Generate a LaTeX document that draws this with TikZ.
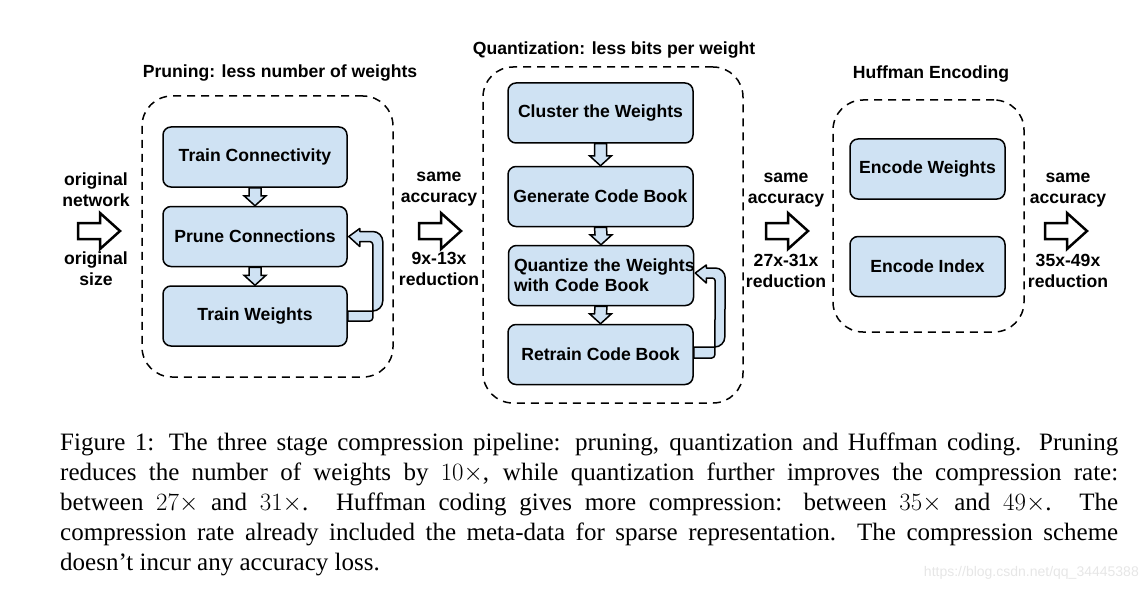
\documentclass[tikz,border=0pt]{standalone}
\usepackage{fontspec}
\setmainfont{Liberation Serif}
\setsansfont{Liberation Sans}
\definecolor{boxblue}{HTML}{CFE2F3}
\definecolor{wmgray}{HTML}{E6E6E6}
\newcommand\dnarrow[2]{%
  \draw[smallarr] ([xshift=-6pt]#1.south) -- ([xshift=6pt]#1.south)
    -- ([xshift=6pt,yshift=10pt]#2.north) -- ([xshift=11pt,yshift=10pt]#2.north)
    -- (#2.north) -- ([xshift=-11pt,yshift=10pt]#2.north)
    -- ([xshift=-6pt,yshift=10pt]#2.north) -- cycle;}
\begin{document}
\begin{tikzpicture}[x=1pt,y=-1pt,
  proc/.style={draw=black, line width=1.5pt, fill=boxblue, rounded corners=8pt,
    minimum width=184pt, minimum height=60pt, inner sep=0pt,
    font=\sffamily\bfseries\fontsize{17.6}{20}\selectfont},
  stage/.style={draw, dash pattern=on 8pt off 6pt, line width=1.5pt, rounded corners=30pt},
  lbl/.style={font=\sffamily\bfseries\fontsize{17.6}{21}\selectfont, align=center, inner sep=0pt},
  smallarr/.style={draw=black, line width=1.5pt, fill=boxblue, line join=miter},
  fb/.style={draw=black, line width=1.5pt, fill=boxblue, line join=round},
  bigarrow/.pic={\draw[line width=2.5pt, fill=white, line join=miter]
    (-21,-8) -- (1,-8) -- (1,-18) -- (21,0) -- (1,18) -- (1,8) -- (-21,8) -- cycle;}
]
\useasboundingbox (0,0) rectangle (1148,591);

% stage boxes
\node[stage, minimum width=251pt, minimum height=281pt] (sprune) at (267.5,236.5) {};
\node[stage, minimum width=260pt, minimum height=336pt] (squant) at (613,235) {};
\node[stage, minimum width=191pt, minimum height=232pt] (shuff) at (928.5,216) {};

% titles
\node[lbl] (tprune) at (280,73) {Pruning: less number of weights};
\node[lbl] (tquant) at (614,50) {Quantization: less bits per weight};
\node[lbl] (thuff) at (931,74) {Huffman Encoding};

% pruning
\node[proc] (tc) at (255,157) {Train Connectivity};
\node[proc] (pc) at (255,236.5) {Prune Connections};
\node[proc] (tw) at (255,316) {Train Weights};
\dnarrow{tc}{pc}
\dnarrow{pc}{tw}
\draw[fb] ([yshift=5pt]tw.east) [rounded corners=10pt] -- ([xshift=35pt,yshift=5pt]tw.east)
  -- ([xshift=35pt,yshift=5pt]pc.east) [sharp corners] -- ([xshift=12pt,yshift=5pt]pc.east)
  -- ([xshift=12pt,yshift=8pt]pc.east) -- ([xshift=1pt]pc.east)
  -- ([xshift=12pt,yshift=-10pt]pc.east) -- ([xshift=12pt,yshift=-5pt]pc.east)
  [rounded corners=3pt] -- ([xshift=25pt,yshift=-5pt]pc.east)
  -- ([xshift=25pt,yshift=-5pt]tw.east) [sharp corners] -- ([yshift=-5pt]tw.east) -- cycle;

% quantization
\node[proc, minimum width=185pt] (cw) at (600.5,113) {Cluster the Weights};
\node[proc, minimum width=185pt] (gc) at (600.5,196.5) {Generate Code Book};
\node[proc, minimum width=185pt, text width=174pt, align=left] (qw) at (601,275.5)
  {\mbox{Quantize the Weights}\\with Code Book};
\node[proc, minimum width=185pt] (rt) at (600.5,354.5) {Retrain Code Book};
\dnarrow{cw}{gc}
\dnarrow{gc}{qw}
\dnarrow{qw}{rt}
\draw[fb] ([yshift=7.5pt]rt.east) [rounded corners=10pt] -- ([xshift=31pt,yshift=7.5pt]rt.east)
  -- ([xshift=31pt,yshift=7.5pt]qw.east) [sharp corners] -- ([xshift=12pt,yshift=7.5pt]qw.east)
  -- ([xshift=12pt,yshift=10.5pt]qw.east) -- ([xshift=1pt,yshift=2.5pt]qw.east)
  -- ([xshift=12pt,yshift=-7.5pt]qw.east) -- ([xshift=12pt,yshift=-2.5pt]qw.east)
  [rounded corners=3pt] -- ([xshift=21pt,yshift=-2.5pt]qw.east)
  -- ([xshift=21pt,yshift=-3.5pt]rt.east) [sharp corners] -- ([yshift=-3.5pt]rt.east) -- cycle;

% huffman
\node[proc, minimum width=155pt] (ew) at (927.5,169) {Encode Weights};
\node[proc, minimum width=155pt] (ei) at (927.5,266.5) {Encode Index};

% side labels and big arrows
\node[lbl] (l1) at (96,190) {original\\network};
\pic (a1) at (99,231) {bigarrow};
\node[lbl] (l1b) at (96,269) {original\\size};

\node[lbl] (l2) at (439,189) {same\\accuracy};
\pic (a2) at (440,231) {bigarrow};
\node[lbl] (l2b) at (439,269) {9x-13x\\reduction};

\node[lbl] (l3) at (786,190) {same\\accuracy};
\pic (a3) at (787,231) {bigarrow};
\node[lbl] (l3b) at (786,271) {27x-31x\\reduction};

\node[lbl] (l4) at (1068,190) {same\\accuracy};
\pic (a4) at (1066,231) {bigarrow};
\node[lbl] (l4b) at (1068,271) {35x-49x\\reduction};

% caption
\node[anchor=north west, inner sep=0pt, text width=1058pt, align=justify,
  font=\fontsize{25}{29.9}\selectfont] (cap) at (60,433)
{Figure 1: The three stage compression pipeline: pruning, quantization and Huffman coding. Pruning\linebreak
reduces the number of weights by $10\times$, while quantization further improves the compression rate:\linebreak
between $27\times$ and $31\times$. Huffman coding gives more compression: between $35\times$ and $49\times$. The\linebreak
compression rate already included the meta-data for sparse representation. The compression scheme\linebreak
doesn't incur any accuracy loss.};

\node[anchor=east, inner sep=0pt, text=wmgray, font=\sffamily\fontsize{14}{16}\selectfont] (wm) at (1139,573)
  {https://blog.csdn.net/qq\_34445388};
\end{tikzpicture}
\end{document}
